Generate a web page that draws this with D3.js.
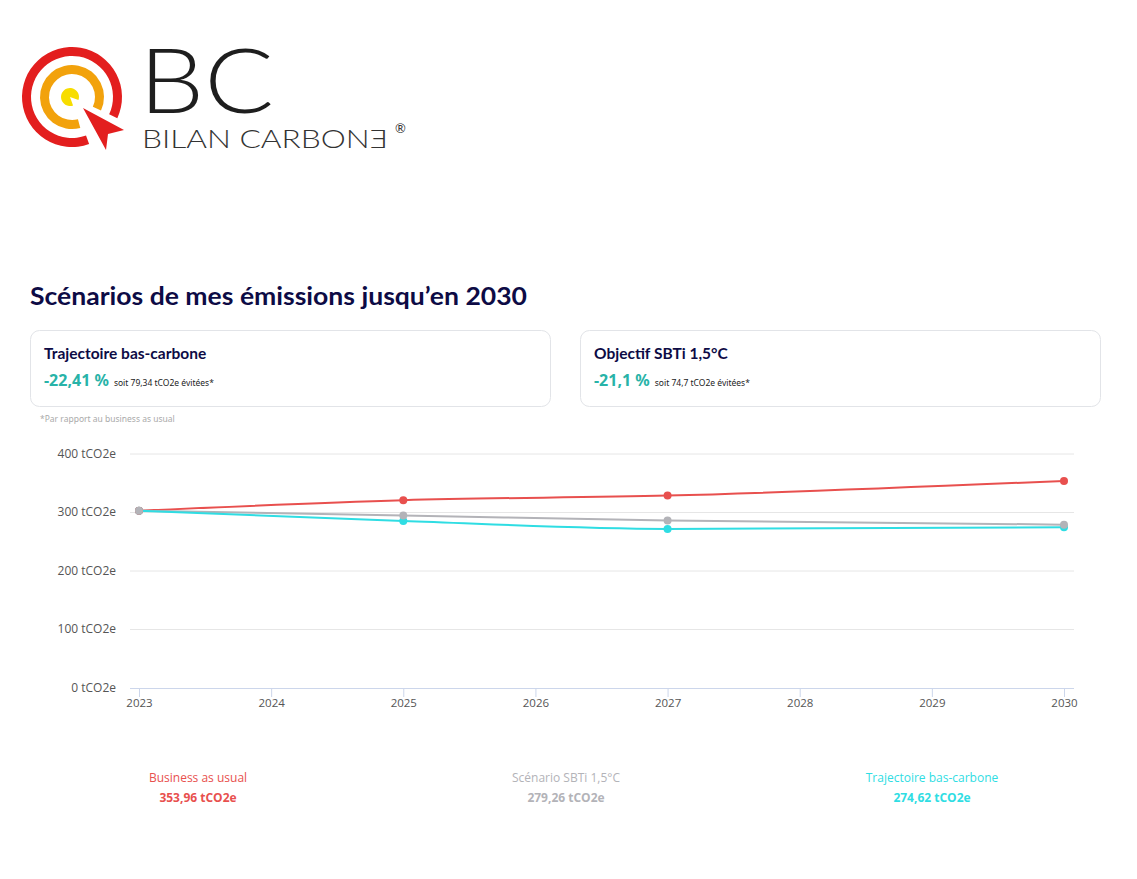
<!DOCTYPE html>
<html>
<head>
<meta charset="utf-8">
<style>
    body {
        margin: 0;
        padding: 0;
        background: #fff;
        font-family: "Noto Sans", "Open Sans", sans-serif;
    }
    #page {
        position: relative;
        width: 1137px;
        height: 879px;
    }
    .tick text {
        font-family: "Open Sans", "Noto Sans", sans-serif;
    }
</style>
<script src="https://d3js.org/d3.v7.min.js"></script>
</head>
<body>
<div id="page"></div>
<script>
// data
var years = [2023, 2025, 2027, 2030];
var businessAsUsual = [303, 321, 329, 353.96];
var sbtiScenario = [303, 295, 286.5, 279.26];
var lowCarbon = [303, 285.5, 272, 274.62];
var yTickValues = [0, 100, 200, 300, 400];
var xTickValues = [2023, 2024, 2025, 2026, 2027, 2028, 2029, 2030];
var seriesNames = ["Business as usual", "Scénario SBTi 1,5°C", "Trajectoire bas-carbone"];
var seriesTotals = ["353,96 tCO2e", "279,26 tCO2e", "274,62 tCO2e"];
var colors = ["#e8504e", "#b3b3b8", "#2fdde3"];

var svg = d3.select("#page").append("svg")
    .attr("width", 1137)
    .attr("height", 879);

// ---- logo
var logo = svg.append("g");
var arc = d3.arc();
logo.append("path")
    .attr("transform", "translate(72,97)")
    .attr("d", arc({innerRadius: 41, outerRadius: 50, startAngle: 160 * Math.PI / 180, endAngle: 475 * Math.PI / 180}))
    .attr("fill", "#e31e1e");
logo.append("path")
    .attr("transform", "translate(72,97)")
    .attr("d", arc({innerRadius: 23, outerRadius: 32, startAngle: 165 * Math.PI / 180, endAngle: 475 * Math.PI / 180}))
    .attr("fill", "#f2a20c");
logo.append("path")
    .attr("transform", "translate(70,97)")
    .attr("d", arc({innerRadius: 0, outerRadius: 9, startAngle: 160 * Math.PI / 180, endAngle: 470 * Math.PI / 180}))
    .attr("fill", "#f7dd00");
logo.append("path")
    .attr("d", "M83,108 L124,130 L108,134 L106,150 Z")
    .attr("fill", "#e31e1e");
logo.append("text")
    .attr("x", 139).attr("y", 113)
    .attr("font-family", "Lato, 'Noto Sans', sans-serif")
    .attr("font-weight", 300)
    .attr("font-size", 90)
    .attr("textLength", 135)
    .attr("lengthAdjust", "spacingAndGlyphs")
    .attr("fill", "#1e1e1e")
    .text("BC");
logo.append("text")
    .attr("x", 142).attr("y", 148)
    .attr("font-family", "Lato, 'Noto Sans', sans-serif")
    .attr("font-weight", 300)
    .attr("font-size", 25)
    .attr("textLength", 246)
    .attr("lengthAdjust", "spacingAndGlyphs")
    .attr("fill", "#333")
    .text("BILAN CARBONƎ");
logo.append("text")
    .attr("x", 395).attr("y", 133)
    .attr("font-family", "Lato, 'Noto Sans', sans-serif")
    .attr("font-size", 13)
    .attr("fill", "#333")
    .text("®");

// ---- title and cards
svg.append("text")
    .attr("x", 30).attr("y", 305)
    .attr("font-family", "Lato, sans-serif")
    .attr("font-weight", 700)
    .attr("font-size", 25)
    .attr("textLength", 497)
    .attr("lengthAdjust", "spacingAndGlyphs")
    .attr("fill", "#0d0b45")
    .text("Scénarios de mes émissions jusqu’en 2030");

var cards = [
    {x: 30, title: "Trajectoire bas-carbone", pct: "-22,41 %", note: "soit 79,34 tCO2e évitées*"},
    {x: 580, title: "Objectif SBTi 1,5°C", pct: "-21,1 %", note: "soit 74,7 tCO2e évitées*"}
];
cards.forEach(function(c) {
    var g = svg.append("g").attr("transform", "translate(" + c.x + ",330)");
    g.append("rect")
        .attr("x", 0.5).attr("y", 0.5)
        .attr("width", 520).attr("height", 76)
        .attr("rx", 9)
        .attr("fill", "#fff")
        .attr("stroke", "#e2e4e8");
    g.append("text")
        .attr("x", 14).attr("y", 29)
        .attr("font-family", "Lato, sans-serif")
        .attr("font-weight", 700)
        .attr("font-size", 15.5)
        .attr("fill", "#0d0b45")
        .text(c.title);
    var t = g.append("text")
        .attr("x", 14).attr("y", 56);
    t.append("tspan")
        .attr("font-weight", 700)
        .attr("font-size", 16)
        .attr("fill", "#28b3a8")
        .text(c.pct);
    t.append("tspan")
        .attr("dx", 5)
        .attr("font-size", 8.5)
        .attr("fill", "#222")
        .text(c.note);
});
svg.append("text")
    .attr("x", 40).attr("y", 422)
    .attr("font-size", 8.5)
    .attr("fill", "#aaa")
    .text("*Par rapport au business as usual");

// ---- chart
var x = d3.scaleLinear().domain([2023, 2030]).range([139, 1064]);
var y = d3.scaleLinear().domain([0, 400]).range([688, 454]);

svg.append("g")
    .attr("class", "grid")
    .selectAll("line")
    .data(yTickValues.slice(1))
    .enter().append("line")
    .attr("x1", 130).attr("x2", 1074)
    .attr("y1", function(d) { return y(d); })
    .attr("y2", function(d) { return y(d); })
    .attr("stroke", "#e6e6e6");

var yAxis = svg.append("g")
    .attr("transform", "translate(116,0)")
    .call(d3.axisLeft(y).tickValues(yTickValues).tickSize(0).tickPadding(0)
        .tickFormat(function(d) { return d + " tCO2e"; }));
yAxis.select(".domain").remove();
yAxis.selectAll("text")
    .attr("dy", "0.25em")
    .attr("font-size", 12)
    .attr("fill", "#555");

var xAxis = svg.append("g")
    .attr("transform", "translate(0,688)")
    .call(d3.axisBottom(x).tickValues(xTickValues).tickSize(9).tickPadding(2)
        .tickFormat(d3.format("d")));
xAxis.select(".domain")
    .attr("d", "M130,0.5H1074")
    .attr("stroke", "#ccd6eb");
xAxis.selectAll(".tick line").attr("stroke", "#ccd6eb");
xAxis.selectAll("text")
    .attr("font-size", 11.5)
    .attr("fill", "#555");

var series = [businessAsUsual, sbtiScenario, lowCarbon];
var line = d3.line()
    .x(function(d, i) { return x(years[i]); })
    .y(function(d) { return y(d); })
    .curve(d3.curveMonotoneX);

series.forEach(function(values, k) {
    svg.append("path")
        .datum(values)
        .attr("d", line)
        .attr("fill", "none")
        .attr("stroke", colors[k])
        .attr("stroke-width", 2);
});
// markers on top, grey last so its start dot sits above
[2, 0, 1].forEach(function(k) {
    svg.append("g").selectAll("circle")
        .data(series[k])
        .enter().append("circle")
        .attr("cx", function(d, i) { return x(years[i]); })
        .attr("cy", function(d) { return y(d); })
        .attr("r", 4)
        .attr("fill", colors[k]);
});

// ---- legend totals
var legendX = [198, 566, 932];
seriesNames.forEach(function(name, k) {
    svg.append("text")
        .attr("x", legendX[k]).attr("y", 782)
        .attr("text-anchor", "middle")
        .attr("font-family", "'Open Sans', sans-serif")
        .attr("font-size", 12)
        .attr("fill", colors[k])
        .text(name);
    svg.append("text")
        .attr("x", legendX[k]).attr("y", 802)
        .attr("text-anchor", "middle")
        .attr("font-family", "'Open Sans', sans-serif")
        .attr("font-weight", 700)
        .attr("font-size", 12)
        .attr("fill", colors[k])
        .text(seriesTotals[k]);
});
</script>
</body>
</html>
